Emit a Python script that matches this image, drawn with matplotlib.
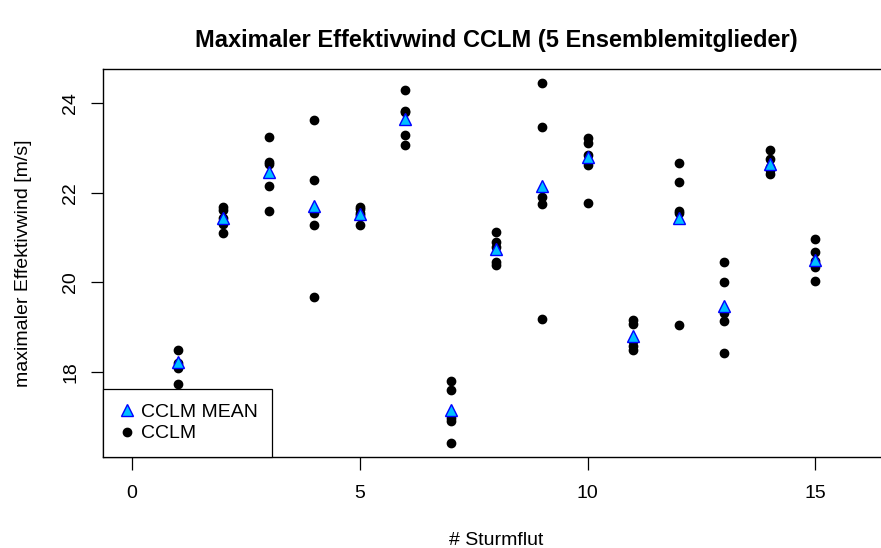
import numpy as np
import matplotlib
matplotlib.use("Agg")
import matplotlib.pyplot as plt
from matplotlib.lines import Line2D

# storm surge number and the five ensemble members
storms = list(range(1, 16))
members = [
    [18.49, 18.21, 18.08, 17.73, 16.60],
    [21.68, 21.62, 21.45, 21.30, 21.10],
    [23.25, 22.70, 22.65, 22.16, 21.59],
    [23.64, 22.30, 21.56, 21.28, 19.68],
    [21.68, 21.65, 21.55, 21.50, 21.28],
    [24.29, 23.84, 23.80, 23.29, 23.08],
    [17.79, 17.60, 16.97, 16.90, 16.42],
    [21.13, 20.91, 20.80, 20.46, 20.38],
    [24.45, 23.48, 21.90, 21.75, 19.18],
    [23.22, 23.12, 22.85, 22.62, 21.77],
    [19.16, 19.08, 18.70, 18.58, 18.50],
    [22.66, 22.24, 21.60, 21.56, 19.04],
    [20.45, 20.01, 19.31, 19.14, 18.42],
    [22.96, 22.77, 22.59, 22.51, 22.42],
    [20.98, 20.67, 20.47, 20.35, 20.03],
]
means = [18.23, 21.43, 22.47, 21.71, 21.53, 23.66, 17.15, 20.74,
         22.16, 22.81, 18.81, 21.43, 19.48, 22.65, 20.50]

x_ticks = [0, 5, 10, 15]
y_ticks = [18, 20, 22, 24]

plt.rcParams['font.family'] = ['Liberation Sans', 'DejaVu Sans']

fig = plt.figure(figsize=(8.81, 5.48), dpi=100)
# plot box runs past the right edge of the picture (cropped R output)
ax = fig.add_axes([103 / 881, 91 / 548, 787 / 881, 388 / 548])

for s, vals in zip(storms, members):
    ax.plot([s] * len(vals), vals, 'o', color='black', markersize=6,
            linestyle='none', zorder=2)
ax.plot(storms, means, '^', markerfacecolor='#00BFFF', markeredgecolor='#0000FF',
        markeredgewidth=1.0, markersize=8.5, linestyle='none', zorder=3)

ax.set_xlim(-0.64, 16.64)
ax.set_ylim(16.10, 24.77)
ax.set_xticks(x_ticks)
ax.set_yticks(y_ticks)
ax.tick_params(axis='both', direction='out', length=9, width=0.9,
               labelsize=14, colors='black')
ax.tick_params(axis='x', pad=11)
ax.tick_params(axis='y', pad=8, labelrotation=90)
for lab in ax.get_yticklabels():
    lab.set_va('center')
for sp in ax.spines.values():
    sp.set_color('black')
    sp.set_linewidth(1.0)

ax.set_xlabel('# Sturmflut', fontsize=14, labelpad=22)
ax.set_ylabel('maximaler Effektivwind [m/s]', fontsize=14, labelpad=22)
fig.text(496 / 881, 1 - 41 / 548, 'Maximaler Effektivwind CCLM (5 Ensemblemitglieder)',
         ha='center', va='center', fontsize=17, fontweight='bold')

handles = [
    Line2D([], [], marker='^', linestyle='none', markerfacecolor='#00BFFF',
           markeredgecolor='#0000FF', markersize=8.5),
    Line2D([], [], marker='o', linestyle='none', color='black', markersize=6),
]
leg = ax.legend(handles, ['CCLM MEAN', 'CCLM'], loc='lower left', fontsize=14,
                borderaxespad=0, fancybox=False, framealpha=1, edgecolor='black',
                handlelength=1.0, handletextpad=0.2, borderpad=0.75, labelspacing=0.2)
leg.get_frame().set_linewidth(0.9)
leg.set_zorder(5)

fig.savefig('out.png', dpi=100)
